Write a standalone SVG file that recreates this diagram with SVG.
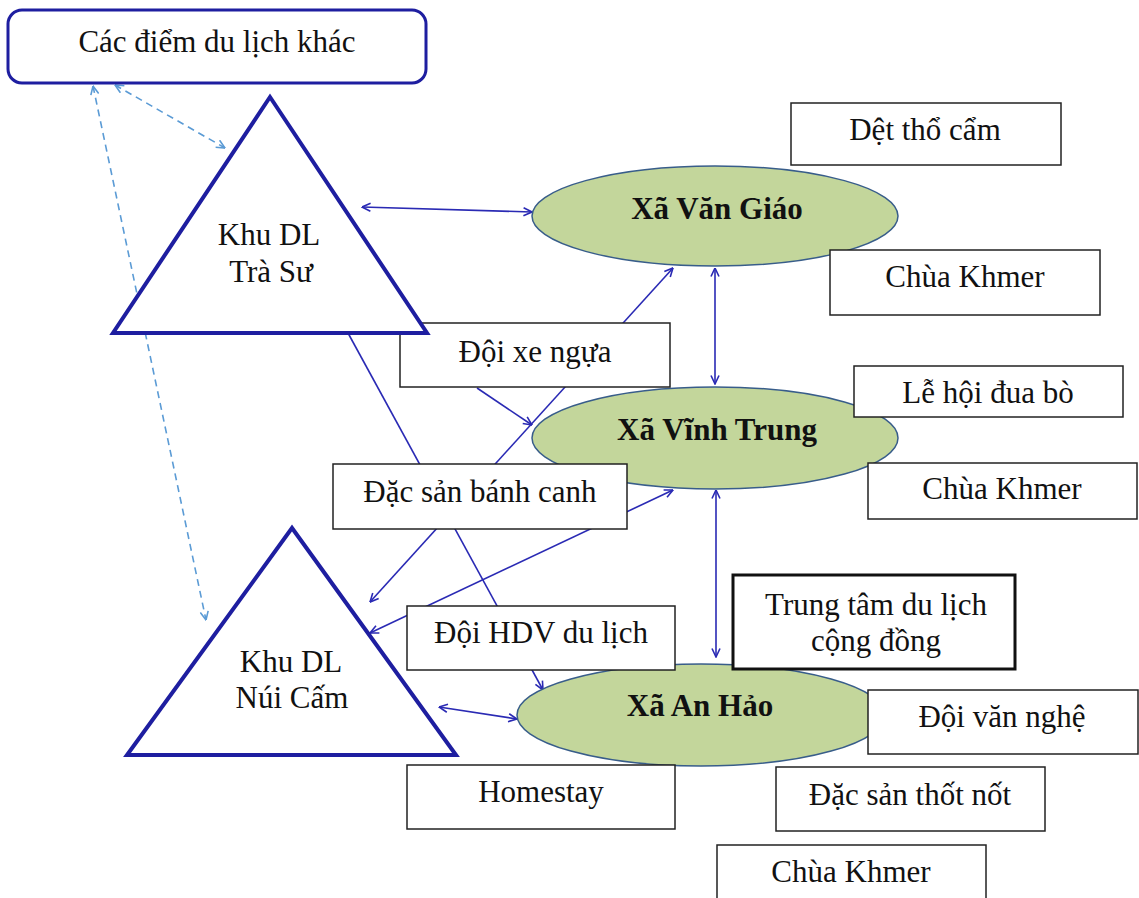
<svg xmlns="http://www.w3.org/2000/svg" width="1139" height="898" viewBox="0 0 1139 898">
<defs>
<style>
text{font-family:"Liberation Serif","Times New Roman",serif;font-size:31px;fill:#111;text-anchor:middle}
.b{font-weight:bold}
.box{fill:#fff;stroke:#222;stroke-width:1.5}
.ell{fill:#c3d69b;stroke:#385d8a;stroke-width:1.5}
.tri{fill:#fff;stroke:#1e1ea0;stroke-width:4;stroke-linejoin:miter}
.con{stroke:#2a2ab4;stroke-width:1.6;fill:none}
.dash{stroke:#5b9bd5;stroke-width:1.6;fill:none;stroke-dasharray:7 5}
</style>
<marker id="ar" viewBox="0 0 10 10" refX="9.5" refY="5" markerWidth="10" markerHeight="10" markerUnits="userSpaceOnUse" orient="auto-start-reverse">
<path d="M1,1 L9.5,5 L1,9" fill="none" stroke="#2a2ab4" stroke-width="1.6"/>
</marker>
<marker id="ard" viewBox="0 0 10 10" refX="9.5" refY="5" markerWidth="10" markerHeight="10" markerUnits="userSpaceOnUse" orient="auto-start-reverse">
<path d="M1,1 L9.5,5 L1,9" fill="none" stroke="#5b9bd5" stroke-width="1.6"/>
</marker>
</defs>
<rect width="1139" height="898" fill="#fff"/>
<g id="connectors">
<line class="dash" x1="115" y1="85" x2="225" y2="148" marker-start="url(#ard)" marker-end="url(#ard)"/>
<line class="dash" x1="93" y1="86" x2="206" y2="620" marker-start="url(#ard)" marker-end="url(#ard)"/>
<line class="con" x1="362" y1="207" x2="532" y2="212" marker-start="url(#ar)" marker-end="url(#ar)"/>
<line class="con" x1="715" y1="268" x2="715" y2="384" marker-start="url(#ar)" marker-end="url(#ar)"/>
<line class="con" x1="716" y1="490" x2="716" y2="657" marker-start="url(#ar)" marker-end="url(#ar)"/>
<line class="con" x1="439" y1="707" x2="517" y2="719" marker-start="url(#ar)" marker-end="url(#ar)"/>
<line class="con" x1="348" y1="333" x2="543" y2="690" marker-end="url(#ar)"/>
<line class="con" x1="477" y1="388" x2="532" y2="425" marker-end="url(#ar)"/>
<line class="con" x1="370" y1="602" x2="673" y2="268" marker-start="url(#ar)" marker-end="url(#ar)"/>
<line class="con" x1="370" y1="633" x2="673" y2="490" marker-start="url(#ar)" marker-end="url(#ar)"/>
</g>
<g id="xa-van-giao"><ellipse class="ell" cx="715" cy="216" rx="183" ry="50"/><text class="b" x="717" y="219">Xã Văn Giáo</text></g>
<g id="xa-vinh-trung"><ellipse class="ell" cx="715" cy="438" rx="183" ry="51"/><text class="b" x="717" y="440">Xã Vĩnh Trung</text></g>
<g id="xa-an-hao"><ellipse class="ell" cx="701" cy="715" rx="184" ry="51"/><text class="b" x="700" y="716">Xã An Hảo</text></g>
<g id="det-tho-cam"><rect class="box" x="791" y="103" width="270" height="62"/><text x="925" y="140">Dệt thổ cẩm</text></g>
<g id="chua-khmer-1"><rect class="box" x="830" y="250" width="270" height="65"/><text x="965" y="287">Chùa Khmer</text></g>
<g id="le-hoi-dua-bo"><rect class="box" x="854" y="366" width="269" height="51"/><text x="988" y="403">Lễ hội đua bò</text></g>
<g id="chua-khmer-2"><rect class="box" x="868" y="463" width="269" height="56"/><text x="1002" y="499">Chùa Khmer</text></g>
<g id="doi-xe-ngua"><rect class="box" x="400" y="323" width="270" height="64"/><text x="535" y="362">Đội xe ngựa</text></g>
<g id="dac-san-banh-canh"><rect class="box" x="333" y="464" width="294" height="65"/><text x="480" y="502">Đặc sản bánh canh</text></g>
<g id="doi-hdv"><rect class="box" x="407" y="606" width="268" height="64"/><text x="541" y="643">Đội HDV du lịch</text></g>
<g id="homestay"><rect class="box" x="407" y="765" width="268" height="64"/><text x="541" y="802">Homestay</text></g>
<g id="trung-tam"><rect class="box" x="733" y="575" width="282" height="94" style="stroke-width:3;stroke:#111"/><text x="876" y="615">Trung tâm du lịch</text><text x="876" y="651">cộng đồng</text></g>
<g id="doi-van-nghe"><rect class="box" x="868" y="690" width="270" height="64"/><text x="1002" y="727">Đội văn nghệ</text></g>
<g id="dac-san-thot-not"><rect class="box" x="776" y="767" width="269" height="64"/><text x="910" y="805">Đặc sản thốt nốt</text></g>
<g id="chua-khmer-3"><rect class="box" x="717" y="845" width="269" height="60"/><text x="851" y="882">Chùa Khmer</text></g>
<g id="khu-dl-tra-su"><polygon class="tri" points="270,97 113,333 427,333"/><text x="269" y="245">Khu DL</text><text x="271" y="282">Trà Sư</text></g>
<g id="khu-dl-nui-cam"><polygon class="tri" points="292,528 127,755 456,755"/><text x="291" y="672">Khu DL</text><text x="292" y="708">Núi Cấm</text></g>
<g id="cac-diem-du-lich"><rect x="8" y="10" width="418" height="73" rx="14" fill="#fff" stroke="#1e1ea0" stroke-width="3"/><text x="217" y="52">Các điểm du lịch khác</text></g>
</svg>
